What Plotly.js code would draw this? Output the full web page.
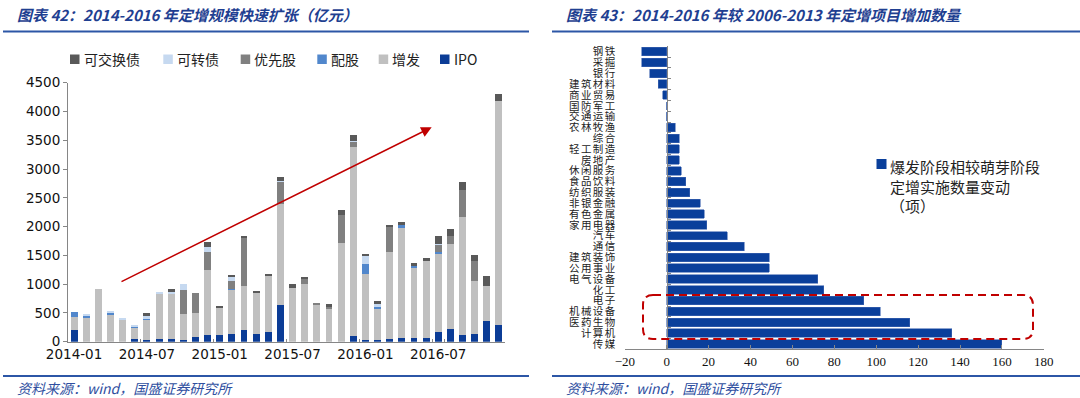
<!DOCTYPE html>
<html><head><meta charset="utf-8">
<script src="https://cdn.plot.ly/plotly-3.0.1.min.js"></script>
<style>html,body{margin:0;padding:0;background:#fff;}#c{width:1080px;height:398px;}
.y2tick text{letter-spacing:1.4px;}
</style>
</head><body><div id="c"></div>
<script>
// ---------- Left chart data (亿元) ----------
const months = ['2014-01','2014-02','2014-03','2014-04','2014-05','2014-06','2014-07','2014-08','2014-09','2014-10','2014-11','2014-12',
                '2015-01','2015-02','2015-03','2015-04','2015-05','2015-06','2015-07','2015-08','2015-09','2015-10','2015-11','2015-12',
                '2016-01','2016-02','2016-03','2016-04','2016-05','2016-06','2016-07','2016-08','2016-09','2016-10','2016-11','2016-12'];
const monthTicks = ['2014-01','2014-07','2015-01','2015-07','2016-01','2016-07'];
const ipo        = [200,0,0,0,0,45,30,55,45,35,80,115, 120,140,205,140,175,630,0,0,0,0,0,100, 35,25,50,70,70,60,160,215,125,140,355,285];
const placement  = [235,430,920,470,375,200,355,770,800,445,415,1130, 475,770,760,705,960,1770,940,1005,630,560,1710,3290, 1135,565,1505,1905,1205,1340,1375,1475,2040,910,620,3900];
const rights     = [80,15,0,25,0,10,15,0,0,0,0,0, 0,10,0,0,0,0,0,0,0,0,0,0, 185,20,0,50,40,0,20,0,0,0,0,0];
const preferred  = [0,0,0,0,0,0,0,0,0,410,345,320, 0,135,840,0,0,380,0,80,45,45,500,90, 0,0,430,0,0,0,135,150,465,350,0,0];
const convertible= [0,35,0,45,45,35,50,35,20,120,0,75, 0,65,0,0,0,15,0,0,0,0,0,10, 135,40,0,0,0,0,10,0,0,0,0,0];
const exchangeable=[0,0,0,0,0,0,45,0,45,0,0,85, 30,40,35,35,35,60,55,45,0,50,85,100, 40,50,50,60,45,60,145,110,150,105,175,115];
const seriesNames = ['IPO','增发','配股','优先股','可转债','可交换债'];
const seriesData  = [ipo, placement, rights, preferred, convertible, exchangeable];

// ---------- Right chart data (项) ----------
const industries = ['钢铁','采掘','银行','建筑材料','商业贸易','国防军工','交通运输','农林牧渔','综合','轻工制造','房地产','休闲服务',
                    '食品饮料','纺织服装','非银金融','有色金属','家用电器','汽车','通信','建筑装饰','公用事业','电气设备','化工','电子',
                    '机械设备','医药生物','计算机','传媒'];
const industryChange = [-12,-12,-8,-4,-2,0,0,4,6,6,6,7, 9,11,16,18,19,29,37,49,49,72,75,94, 102,116,136,160];
const rightSeriesName = '爆发阶段相较萌芽阶段<br>定增实施数量变动<br>（项）';
const xTicksRight = [-20,0,20,40,60,80,100,120,140,160,180];

// ---------- styles ----------
const seriesColors = ['#0b3c96','#c0c0c0','#5187cc','#808080','#c6d9f0','#595959'];
const W = 1080, H = 398;
const px = x => x / W, py = y => 1 - y / H;
const titleColor = '#1f3f91';
const cjk = '"Noto Sans CJK SC", "Noto Sans", sans-serif';

const L = {x0: 68, x1: 505, y0: 82.7, y1: 341.7};
const R = {x0: 624.8, x1: 1043.8, y0: 46.3, y1: 349.4, min: -20, max: 180};

const traces = seriesNames.map((n, i) => ({
  type: 'bar', name: n, x: months, y: seriesData[i], xaxis: 'x', yaxis: 'y',
  marker: {color: seriesColors[i], line: {width: 0}}, width: 0.57, showlegend: false,
  hoverinfo: 'x+y+name'
}));
traces.push({
  type: 'bar', orientation: 'h', name: rightSeriesName, x: industryChange, y: industries,
  xaxis: 'x2', yaxis: 'y2', marker: {color: '#0a3f9b', line: {color: '#3f66b0', width: 0.6}},
  width: 0.78, showlegend: false
});

const zeroPos = px(R.x0 + (0 - R.min) / (R.max - R.min) * (R.x1 - R.x0));
const axGray = '#868686';

const shapes = [
  {type: 'line', xref: 'paper', yref: 'paper', x0: px(3), x1: px(529), y0: py(31.5), y1: py(31.5), line: {color: '#2c56a6', width: 2}},
  {type: 'line', xref: 'paper', yref: 'paper', x0: px(552), x1: px(1080), y0: py(31.5), y1: py(31.5), line: {color: '#2c56a6', width: 2}},
  {type: 'line', xref: 'paper', yref: 'paper', x0: px(3), x1: px(529), y0: py(376), y1: py(376), line: {color: '#2c56a6', width: 2}},
  {type: 'line', xref: 'paper', yref: 'paper', x0: px(552), x1: px(1080), y0: py(376), y1: py(376), line: {color: '#2c56a6', width: 2}},
];
(function(){
  const x0 = 643, x1 = 1033, y0 = 295, y1 = 339, r = 10;
  const P = (x, y) => px(x) + ',' + py(y);
  const path = 'M' + P(x0 + r, y0) + ' L' + P(x1 - r, y0) + ' Q' + P(x1, y0) + ' ' + P(x1, y0 + r) +
    ' L' + P(x1, y1 - r) + ' Q' + P(x1, y1) + ' ' + P(x1 - r, y1) + ' L' + P(x0 + r, y1) +
    ' Q' + P(x0, y1) + ' ' + P(x0, y1 - r) + ' L' + P(x0, y0 + r) + ' Q' + P(x0, y0) + ' ' + P(x0 + r, y0) + ' Z';
  shapes.push({type: 'path', xref: 'paper', yref: 'paper', path: path, line: {color: '#c00000', width: 2, dash: '8px,5px'}});
})();

const annotations = [
  {xref: 'paper', yref: 'paper', x: px(15), y: py(15), xanchor: 'left', yanchor: 'middle', showarrow: false,
   text: '<b><i>图表 42：2014-2016 年定增规模快速扩张（亿元）</i></b>', font: {family: cjk, size: 15, color: titleColor}},
  {xref: 'paper', yref: 'paper', x: px(564), y: py(15), xanchor: 'left', yanchor: 'middle', showarrow: false,
   text: '<b><i>图表 43：2014-2016 年较 2006-2013 年定增项目增加数量</i></b>', font: {family: cjk, size: 15, color: titleColor}},
  {xref: 'paper', yref: 'paper', x: px(15), y: py(388), xanchor: 'left', yanchor: 'middle', showarrow: false,
   text: '<i>资料来源：wind，国盛证券研究所</i>', font: {family: cjk, size: 14, color: '#2f4f9f'}},
  {xref: 'paper', yref: 'paper', x: px(564), y: py(388), xanchor: 'left', yanchor: 'middle', showarrow: false,
   text: '<i>资料来源：wind，国盛证券研究所</i>', font: {family: cjk, size: 14, color: '#2f4f9f'}},
  {xref: 'paper', yref: 'paper', x: px(431.7), y: py(127.3), ax: 120 - 431.7, ay: 282.3 - 127.3, text: '',
   showarrow: true, arrowhead: 2, arrowsize: 1.4, arrowwidth: 1.5, arrowcolor: '#c00000'},
  {xref: 'paper', yref: 'paper', x: px(888), y: py(153.5), xanchor: 'left', yanchor: 'top', align: 'left', showarrow: false,
   text: rightSeriesName, font: {family: cjk, size: 15, color: '#222'}}
];
shapes.push({type: 'rect', xref: 'paper', yref: 'paper', x0: px(876.5), x1: px(886.5), y0: py(169), y1: py(159),
  fillcolor: '#0a3f9b', line: {width: 0}});

const legendX = [70, 163.3, 240.7, 317.3, 378.7, 440];
const legendOrder = [5, 4, 3, 2, 1, 0];
legendOrder.forEach((si, k) => {
  const x = legendX[k];
  shapes.push({type: 'rect', xref: 'paper', yref: 'paper', x0: px(x), x1: px(x + 9.5), y0: py(64), y1: py(54.5),
    fillcolor: seriesColors[si], line: {width: 0}});
  annotations.push({xref: 'paper', yref: 'paper', x: px(x + 11.5), y: py(59), xanchor: 'left', yanchor: 'middle',
    showarrow: false, text: seriesNames[si], font: {family: cjk, size: 14, color: '#222'}});
});

const layout = {
  width: W, height: H, margin: {l: 0, r: 0, t: 0, b: 0}, paper_bgcolor: '#fff', plot_bgcolor: 'rgba(0,0,0,0)',
  barmode: 'stack', showlegend: false, hovermode: 'closest',
  xaxis: {domain: [px(L.x0), px(L.x1)], anchor: 'y', type: 'category', categoryorder: 'array', categoryarray: months,
    range: [-0.5, months.length - 0.5], tickmode: 'array', tickvals: monthTicks, ticktext: monthTicks, tickangle: 0,
    tickson: 'boundaries', ticks: 'inside', ticklen: 3, tickcolor: axGray, showline: true, linecolor: axGray, linewidth: 1,
    showgrid: false, zeroline: false, tickfont: {family: 'DejaVu Sans', size: 13.5, color: '#111'}, fixedrange: true},
  yaxis: {domain: [py(L.y1), py(L.y0)], anchor: 'x', range: [0, 4500], dtick: 500, ticks: 'outside', ticklen: 4,
    tickcolor: axGray, showline: true, linecolor: axGray, linewidth: 1, showgrid: false, zeroline: false,
    tickfont: {family: 'DejaVu Sans', size: 13.5, color: '#111'}, fixedrange: true},
  xaxis2: {domain: [px(R.x0), px(R.x1)], anchor: 'y2', range: [R.min, R.max], tickmode: 'array', tickvals: xTicksRight,
    ticks: 'inside', ticklen: 4, tickcolor: axGray, showline: true, linecolor: axGray, linewidth: 1, showgrid: false,
    zeroline: false, tickfont: {family: '"Liberation Serif", serif', size: 13, color: '#111'}, fixedrange: true},
  yaxis2: {domain: [py(R.y1), py(R.y0)], anchor: 'free', position: zeroPos, type: 'category', categoryorder: 'array',
    categoryarray: industries, range: [industries.length - 0.5, -0.5], tickmode: 'array', tickvals: industries, ticktext: industries,
    tickson: 'boundaries', ticks: 'inside', ticklen: 3, tickcolor: axGray, showline: true, linecolor: axGray, linewidth: 1,
    showgrid: false, zeroline: false, ticklabelstandoff: 48, tickfont: {family: cjk, size: 10.5, color: '#222'}, fixedrange: true},
  shapes: shapes, annotations: annotations
};

Plotly.newPlot('c', traces, layout, {displayModeBar: false});
</script>
</body></html>
